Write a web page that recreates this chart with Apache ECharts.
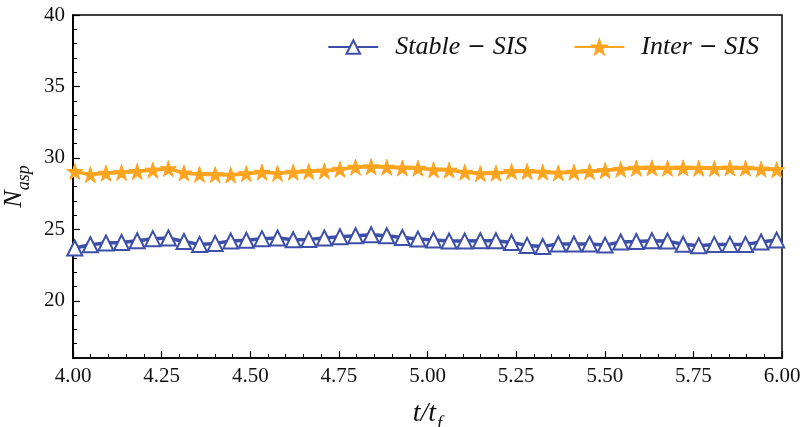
<!DOCTYPE html>
<html>
<head>
<meta charset="utf-8">
<script src="https://cdn.jsdelivr.net/npm/echarts@6/dist/echarts.min.js"></script>
<style>html,body{margin:0;padding:0;background:#fff;}#c{width:802px;height:427px;}</style>
</head>
<body>
<div id="c"></div>
<script>
// time samples t/t_f
const tValues = [];
for (let i = 0; i < 46; i++) tValues.push(+(4.005 + 0.044 * i).toFixed(3));

const stableSIS = [23.70,23.92,24.05,24.08,24.20,24.35,24.40,24.15,23.95,24.02,
  24.18,24.24,24.35,24.40,24.27,24.30,24.40,24.48,24.55,24.62,
  24.55,24.43,24.32,24.25,24.18,24.18,24.20,24.20,24.08,23.88,
  23.80,23.98,23.98,23.98,23.90,24.12,24.15,24.20,24.18,23.96,
  23.86,23.95,23.95,23.95,24.12,24.25];
const interSIS = [29.05,28.83,28.93,28.98,29.05,29.15,29.25,28.95,28.85,28.83,
  28.80,28.90,29.00,28.92,29.00,29.05,29.08,29.20,29.35,29.38,
  29.35,29.30,29.28,29.17,29.15,29.00,28.90,28.93,29.05,29.05,
  29.00,28.95,29.00,29.05,29.12,29.20,29.28,29.30,29.28,29.30,
  29.28,29.26,29.30,29.28,29.22,29.18];
const xTickLabels = ['4.00','4.25','4.50','4.75','5.00','5.25','5.50','5.75','6.00'];
const yTickValues = [20, 25, 30, 35, 40];
const seriesNames = ['Stable \u2212 SIS', 'Inter \u2212 SIS'];

const BLUE = '#3D4FA8';
const ORANGE = '#FFA41F';
const STAR = 'path://M50,0 L61.8,36.2 L100,36.2 L69.1,58.6 L80.9,95 L50,72.6 L19.1,95 L30.9,58.6 L0,36.2 L38.2,36.2 Z';
const FONT = 'Liberation Serif';

const chart = echarts.init(document.getElementById('c'));
chart.setOption({
  animation: false,
  backgroundColor: '#fff',
  grid: { left: 73, right: 20, top: 15, bottom: 69, outerBoundsMode: 'none', containLabel: false,
    show: true, borderColor: '#000', borderWidth: 1.5, backgroundColor: 'transparent' },
  legend: {
    top: 29, right: 38, itemWidth: 50, itemHeight: 17, itemGap: 46,
    textStyle: { color: '#111', padding: [0, 0, 0, 12],
      rich: {
        a: { fontFamily: FONT, fontStyle: 'italic', fontSize: 26, color: '#111' },
        m: { fontFamily: 'DejaVu Sans', fontSize: 22, color: '#111', padding: [0, 7, 0, 7] }
      } },
    formatter: name => { const p = name.split(' \u2212 '); return '{a|' + p[0] + '}{m|\u2212}{a|' + p[1] + '}'; },
    data: seriesNames
  },
  xAxis: {
    type: 'value', min: 4, max: 6, interval: 0.25,
    axisLine: { show: true, lineStyle: { color: '#000', width: 1.5 } },
    axisTick: { show: true, inside: true, length: 7, lineStyle: { color: '#000', width: 1.2 } },
    minorTick: { show: true, splitNumber: 5, length: 4, lineStyle: { color: '#000', width: 1 } },
    splitLine: { show: false },
    axisLabel: { fontFamily: FONT, fontSize: 21, color: '#111', margin: 8,
      formatter: v => { const s = v.toFixed(2); return xTickLabels.includes(s) ? s : ''; } },
    name: '{i|t/t}{s|f}', nameLocation: 'middle', nameGap: 42,
    nameTextStyle: { rich: {
      i: { fontFamily: FONT, fontStyle: 'italic', fontSize: 28, color: '#111' },
      s: { fontFamily: FONT, fontStyle: 'italic', fontSize: 19, color: '#111', verticalAlign: 'bottom', padding: [0,0,-5,1] }
    } }
  },
  yAxis: [{
    type: 'value', min: 16, max: 40, interval: 1,
    axisLine: { show: true, lineStyle: { color: '#000', width: 1.5 } },
    axisTick: { show: true, inside: true, length: 4, lineStyle: { color: '#000', width: 1 } },
    splitLine: { show: false },
    axisLabel: { fontFamily: FONT, fontSize: 21, color: '#111', margin: 8,
      formatter: v => (yTickValues.includes(v) ? String(v) : '') },
    name: '{i|N}{s|asp}', nameLocation: 'middle', nameGap: 44, nameRotate: 90,
    nameTextStyle: { rich: {
      i: { fontFamily: FONT, fontStyle: 'italic', fontSize: 26, color: '#111' },
      s: { fontFamily: FONT, fontStyle: 'italic', fontSize: 18, color: '#111', verticalAlign: 'bottom', padding: [0,0,-6,0] }
    } }
  }, {
    type: 'value', min: 16, max: 40, position: 'left', offset: 0, show: true,
    axisLine: { show: true, lineStyle: { color: '#000', width: 1.5 } },
    axisTick: { show: true, inside: true, length: 7, customValues: yTickValues, lineStyle: { color: '#000', width: 1.2 } },
    axisLabel: { show: true, color: 'rgba(0,0,0,0)', customValues: yTickValues, formatter: () => '' },
    splitLine: { show: false }
  }],
  series: [{
    name: seriesNames[0], type: 'line', yAxisIndex: 0,
    data: tValues.map((t, i) => [t, stableSIS[i]]),
    symbol: 'emptyTriangle', symbolSize: 15, showAllSymbol: true,
    lineStyle: { color: BLUE, width: 3.5 },
    itemStyle: { color: BLUE, borderColor: BLUE, borderWidth: 3 },
    z: 3
  }, {
    name: seriesNames[1], type: 'line', yAxisIndex: 0,
    data: tValues.map((t, i) => [t, interSIS[i]]),
    symbol: STAR, symbolSize: 16, showAllSymbol: true,
    lineStyle: { color: ORANGE, width: 3.5 },
    itemStyle: { color: ORANGE, borderColor: ORANGE, borderWidth: 1 },
    z: 3
  }]
});
</script>
</body>
</html>
